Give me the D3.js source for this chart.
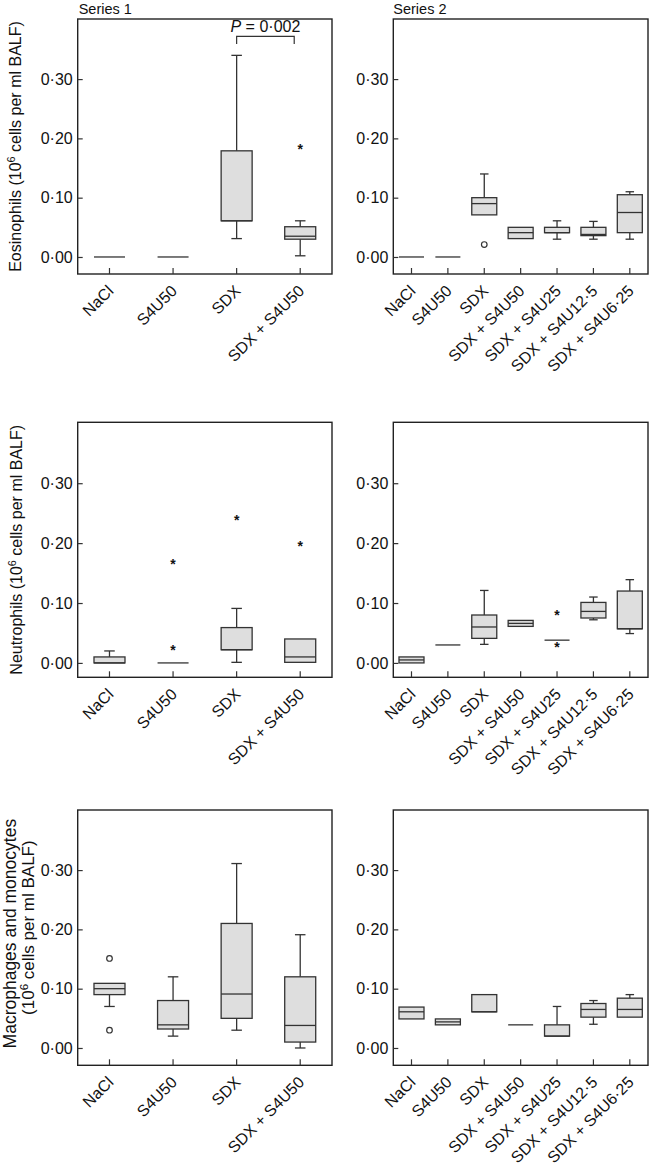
<!DOCTYPE html>
<html>
<head>
<meta charset="utf-8">
<script src="https://cdn.jsdelivr.net/npm/d3@7"></script>
<style>
  body { margin: 0; background: #fff; }
  svg { display: block; font-family: "Liberation Sans", Arial, sans-serif; }
</style>
</head>
<body>
<div id="chart"></div>
<script>
// categories
const cats1 = ["NaCl", "S4U50", "SDX", "SDX + S4U50"];
const cats2 = ["NaCl", "S4U50", "SDX", "SDX + S4U50", "SDX + S4U25", "SDX + S4U12·5", "SDX + S4U6·25"];
const yTicks = [0, 0.1, 0.2, 0.3];

// box stats per category: [low whisker, q1, median, q3, high whisker]
const eos1Box = [
  [0, 0, 0, 0, 0],
  [0, 0, 0, 0, 0],
  [0.031, 0.061, 0.061, 0.179, 0.340],
  [0.002, 0.030, 0.035, 0.051, 0.061]
];
const eos1Out = [[3, 0.187, "star"]];

const eos2Box = [
  [0, 0, 0, 0, 0],
  [0, 0, 0, 0, 0],
  [0.071, 0.071, 0.090, 0.100, 0.140],
  [0.031, 0.031, 0.041, 0.050, 0.050],
  [0.030, 0.041, 0.041, 0.050, 0.061],
  [0.030, 0.036, 0.038, 0.050, 0.060],
  [0.030, 0.041, 0.075, 0.105, 0.110]
];
const eos2Out = [[2, 0.021, "circle"]];

const neu1Box = [
  [0, 0, 0, 0.010, 0.020],
  [0, 0, 0, 0, 0],
  [0.001, 0.022, 0.022, 0.059, 0.091],
  [0.001, 0.001, 0.010, 0.040, 0.040]
];
const neu1Out = [[1, 0.170, "star"], [1, 0.026, "star"], [2, 0.244, "star"], [3, 0.200, "star"]];

const neu2Box = [
  [0, 0, 0.005, 0.010, 0.010],
  [0.030, 0.030, 0.030, 0.030, 0.030],
  [0.031, 0.041, 0.060, 0.080, 0.121],
  [0.061, 0.061, 0.066, 0.071, 0.071],
  [0.038, 0.038, 0.038, 0.038, 0.038],
  [0.072, 0.075, 0.086, 0.101, 0.110],
  [0.049, 0.057, 0.057, 0.120, 0.139]
];
const neu2Out = [[4, 0.086, "star"], [4, 0.031, "star"]];

const mac1Box = [
  [0.070, 0.090, 0.100, 0.109, 0.109],
  [0.020, 0.032, 0.039, 0.080, 0.120],
  [0.030, 0.050, 0.091, 0.210, 0.311],
  [0.000, 0.010, 0.038, 0.120, 0.191]
];
const mac1Out = [[0, 0.151, "circle"], [0, 0.030, "circle"]];

const mac2Box = [
  [0.049, 0.049, 0.061, 0.069, 0.069],
  [0.039, 0.039, 0.044, 0.049, 0.049],
  [0.061, 0.061, 0.061, 0.090, 0.090],
  [0.039, 0.039, 0.039, 0.039, 0.039],
  [0.020, 0.020, 0.020, 0.039, 0.070],
  [0.040, 0.052, 0.065, 0.075, 0.080],
  [0.052, 0.052, 0.065, 0.084, 0.090]
];
const mac2Out = [];

const svg = d3.select("#chart").append("svg")
  .attr("width", 649)
  .attr("height", 1168);

const cols = [{ x: 77.7, w: 254.3, bw: 31 }, { x: 393.3, w: 254.7, bw: 25 }];
const rows = [
  { top: 19, h: 255, lo: -0.0287, hi: 0.4013 },
  { top: 422.3, h: 255, lo: -0.0240, hi: 0.4017 },
  { top: 810, h: 255.3, lo: -0.0292, hi: 0.4013 }
];

const panels = [
  { r: 0, c: 0, cats: cats1, box: eos1Box, out: eos1Out },
  { r: 0, c: 1, cats: cats2, box: eos2Box, out: eos2Out },
  { r: 1, c: 0, cats: cats1, box: neu1Box, out: neu1Out },
  { r: 1, c: 1, cats: cats2, box: neu2Box, out: neu2Out },
  { r: 2, c: 0, cats: cats1, box: mac1Box, out: mac1Out },
  { r: 2, c: 1, cats: cats2, box: mac2Box, out: mac2Out }
];

const fmt = v => d3.format(".2f")(v).replace(".", "·");
const ink = "#333";

panels.forEach(p => {
  const col = cols[p.c], row = rows[p.r];
  const x = d3.scaleBand().domain(p.cats).range([col.x, col.x + col.w]);
  const y = d3.scaleLinear().domain([row.lo, row.hi]).range([row.top + row.h, row.top]);
  p.x = x; p.y = y;
  const g = svg.append("g");

  // boxes
  const bw = col.bw, cap = bw * 0.34;
  p.box.forEach((s, i) => {
    const cx = x(p.cats[i]) + x.bandwidth() / 2;
    const [lo, q1, med, q3, hi] = s;
    const b = g.append("g").attr("stroke", ink).attr("stroke-width", 1.3);
    if (hi > q3) {
      b.append("line").attr("x1", cx).attr("x2", cx).attr("y1", y(q3)).attr("y2", y(hi));
      b.append("line").attr("x1", cx - cap / 2).attr("x2", cx + cap / 2).attr("y1", y(hi)).attr("y2", y(hi));
    }
    if (lo < q1) {
      b.append("line").attr("x1", cx).attr("x2", cx).attr("y1", y(q1)).attr("y2", y(lo));
      b.append("line").attr("x1", cx - cap / 2).attr("x2", cx + cap / 2).attr("y1", y(lo)).attr("y2", y(lo));
    }
    if (q3 > q1) {
      b.append("rect").attr("x", cx - bw / 2).attr("width", bw)
        .attr("y", y(q3)).attr("height", y(q1) - y(q3))
        .attr("fill", "#dedede");
    }
    b.append("line").attr("x1", cx - bw / 2).attr("x2", cx + bw / 2).attr("y1", y(med)).attr("y2", y(med));
  });

  // outliers
  p.out.forEach(([ci, v, t]) => {
    const cx = x(p.cats[ci]) + x.bandwidth() / 2;
    if (t === "circle") {
      g.append("circle").attr("cx", cx).attr("cy", y(v)).attr("r", 2.8)
        .attr("fill", "#fff").attr("stroke", ink).attr("stroke-width", 1.2);
    } else {
      g.append("text").attr("x", cx).attr("y", y(v)).attr("dy", "0.58em")
        .attr("text-anchor", "middle").attr("font-size", 14).attr("font-weight", "bold")
        .attr("fill", "#111").text("*");
    }
  });

  // frame
  g.append("rect").attr("x", col.x).attr("y", row.top).attr("width", col.w).attr("height", row.h)
    .attr("fill", "none").attr("stroke", "#222").attr("stroke-width", 1.4);

  // y axis
  const ya = g.append("g").attr("transform", `translate(${col.x},0)`)
    .call(d3.axisLeft(y).tickValues(yTicks).tickFormat(fmt).tickSizeInner(-5).tickSizeOuter(0).tickPadding(5));
  ya.select(".domain").remove();
  ya.selectAll("line").attr("stroke", ink).attr("stroke-width", 1.2);
  ya.selectAll("text").attr("font-size", 16).attr("fill", "#111")
    .attr("font-family", "'Liberation Sans', Arial, sans-serif");

  // x axis
  const xa = g.append("g").attr("transform", `translate(0,${row.top + row.h})`)
    .call(d3.axisBottom(x).tickSizeInner(-6).tickSizeOuter(0));
  xa.select(".domain").remove();
  xa.selectAll("line").attr("stroke", ink).attr("stroke-width", 1.2);
  xa.selectAll("text").attr("font-size", 16).attr("fill", "#111")
    .attr("font-family", "'Liberation Sans', Arial, sans-serif")
    .attr("text-anchor", "end").attr("x", 0).attr("y", 0).attr("dy", 0)
    .attr("transform", "translate(5,18) rotate(-45)");
});

// series titles
svg.append("text").attr("x", cols[0].x + 1).attr("y", 13.5).attr("font-size", 14.5).attr("fill", "#111").text("Series 1");
svg.append("text").attr("x", cols[1].x).attr("y", 13.5).attr("font-size", 14.5).attr("fill", "#111").text("Series 2");

// y titles
function yTitle(xb, cy, pre, size) {
  const t = svg.append("text").attr("transform", `translate(${xb},${cy}) rotate(-90)`)
    .attr("text-anchor", "middle").attr("font-size", size).attr("fill", "#111");
  t.append("tspan").text(pre + "(10");
  t.append("tspan").attr("font-size", size * 0.68).attr("dy", -size * 0.38).text("6");
  t.append("tspan").attr("dy", size * 0.38).text(" cells per ml BALF)");
}
yTitle(21, rows[0].top + rows[0].h / 2, "Eosinophils ", 16);
yTitle(22, rows[1].top + rows[1].h / 2, "Neutrophils ", 16);
svg.append("text").attr("transform", `translate(15.5,${rows[2].top + rows[2].h / 2 - 4}) rotate(-90)`)
  .attr("text-anchor", "middle").attr("font-size", 17.5).attr("fill", "#111")
  .text("Macrophages and monocytes");
yTitle(34, rows[2].top + rows[2].h / 2 - 10, "", 17);

// significance bracket (top-left panel)
const p0 = panels[0];
const bx1 = p0.x("SDX") + p0.x.bandwidth() / 2;
const bx2 = p0.x("SDX + S4U50") + p0.x.bandwidth() / 2 - 6;
svg.append("path")
  .attr("d", `M${bx1},${p0.y(0.359)}V${p0.y(0.372)}H${bx2}V${p0.y(0.359)}`)
  .attr("fill", "none").attr("stroke", ink).attr("stroke-width", 1.2);
const pt = svg.append("text").attr("x", (bx1 + bx2) / 2).attr("y", p0.y(0.379))
  .attr("text-anchor", "middle").attr("font-size", 16).attr("fill", "#111");
pt.append("tspan").attr("font-style", "italic").text("P");
pt.append("tspan").text(" = 0·002");
</script>
</body>
</html>
